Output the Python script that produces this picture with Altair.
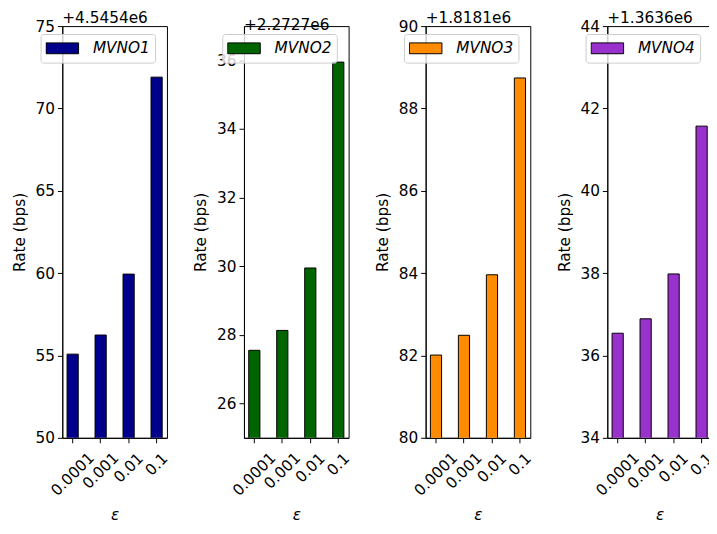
import altair as alt
import pandas as pd

FONT = "DejaVu Sans"
FS = 15.5

eps_labels = ["0.0001", "0.001", "0.01", "0.1"]
series = ["MVNO1", "MVNO2", "MVNO3", "MVNO4"]
offsets = [4545400, 2272700, 1818100, 1363600]
offset_labels = ["+4.5454e6", "+2.2727e6", "+1.8181e6", "+1.3636e6"]
rel_mvno1 = [55.08, 56.24, 59.94, 71.90]
rel_mvno2 = [27.55, 28.13, 29.95, 35.95]
rel_mvno3 = [82.01, 82.49, 83.96, 88.74]
rel_mvno4 = [36.54, 36.89, 37.98, 41.57]
rels = [rel_mvno1, rel_mvno2, rel_mvno3, rel_mvno4]
colors = ["#00008b", "#006400", "#ff8c00", "#9932cc"]
y_domains = [[50, 75], [25, 37], [80, 90], [34, 44]]
y_ticks = [
    [50, 55, 60, 65, 70, 75],
    [26, 28, 30, 32, 34, 36],
    [80, 82, 84, 86, 88, 90],
    [34, 36, 38, 40, 42, 44],
]

label_pad = {
    "condition": [
        {"test": "datum.value === '0.0001'", "value": 31.5},
        {"test": "datum.value === '0.001'", "value": 28},
        {"test": "datum.value === '0.01'", "value": 25},
    ],
    "value": 21.5,
}


def panel(i):
    df = pd.DataFrame({
        "eps": eps_labels,
        "series": [series[i]] * 4,
        "rate": [offsets[i] + v for v in rels[i]],
    })
    return (
        alt.Chart(
            df,
            title=alt.TitleParams(
                offset_labels[i], anchor="start", frame="group", fontSize=FS,
                font=FONT, fontWeight="normal", offset=-7, color="black",
            ),
        )
        .transform_calculate(rel=f"datum.rate - {offsets[i]}")
        .mark_bar(stroke="black", strokeWidth=1, clip=True)
        .encode(
            x=alt.X(
                "eps:N", sort=eps_labels,
                scale=alt.Scale(paddingInner=0.6, paddingOuter=0.17),
                axis=alt.Axis(
                    title="ε", titleFontStyle="italic", labelAngle=-45,
                    labelAlign="center", labelBaseline="middle",
                    labelPadding=label_pad, tickSize=5, titlePadding=9,
                ),
            ),
            y=alt.Y(
                "rel:Q",
                scale=alt.Scale(domain=y_domains[i], nice=False, zero=False),
                axis=alt.Axis(
                    title="Rate (bps)", values=y_ticks[i], grid=False,
                    tickSize=5, labelPadding=3, titlePadding=8,
                ),
            ),
            color=alt.Color(
                "series:N",
                scale=alt.Scale(domain=[series[i]], range=[colors[i]]),
                legend=alt.Legend(
                    title=None, orient="none", legendX=-22, legendY=8,
                    fillColor="rgba(255,255,255,0.8)", strokeColor="#cccccc",
                    cornerRadius=3, padding=5,
                    symbolType="M-1,-0.333H1V0.333H-1Z", symbolSize=1089,
                    symbolStrokeColor="black", symbolStrokeWidth=1,
                    symbolOpacity=1, labelFont=FONT, labelFontSize=FS,
                    labelFontStyle="italic", labelOffset=14, clipHeight=19,
                    labelColor="black",
                ),
            ),
        )
        .properties(width=106, height=417)
    )


chart = (
    alt.hconcat(*[panel(i) for i in range(4)], spacing=21)
    .resolve_scale(color="independent", y="independent", x="independent")
    .properties(padding={"left": 3, "top": -1, "right": -8, "bottom": -1})
    .configure_view(stroke="black", strokeWidth=1)
    .configure_axis(
        domainColor="black", tickColor="black", labelColor="black",
        titleColor="black", labelFont=FONT, labelFontSize=FS,
        titleFont=FONT, titleFontSize=FS, titleFontWeight="normal",
    )
)

chart.save("out.html", embed_options={"renderer": "svg", "actions": False})
